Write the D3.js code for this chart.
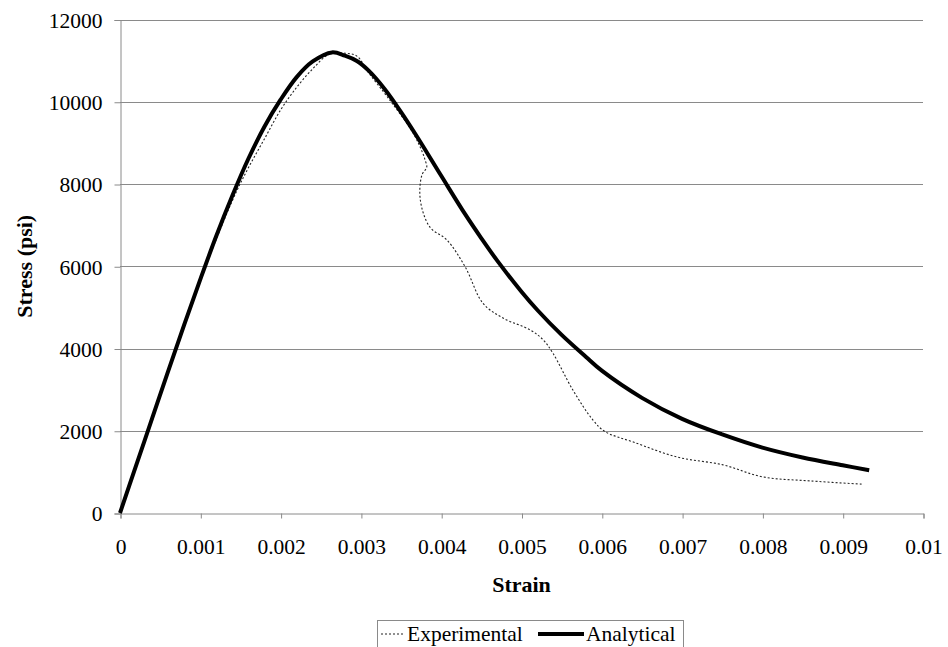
<!DOCTYPE html>
<html>
<head>
<meta charset="utf-8">
<script src="https://cdn.jsdelivr.net/npm/d3@7/dist/d3.min.js"></script>
<style>
  body { margin: 0; background: #fff; }
</style>
</head>
<body>
<div id="chart"></div>
<script>
// experimental test curve (strain, psi)
const expStrain = [0, 0.0005, 0.001, 0.0014, 0.0016, 0.0018, 0.002, 0.0022, 0.0024, 0.0026, 0.0028, 0.00295, 0.00309,
  0.00336, 0.00365, 0.00377, 0.0038, 0.00382, 0.00376, 0.00374, 0.00386, 0.00407, 0.0043, 0.00452, 0.00477, 0.00511,
  0.00527, 0.00539, 0.00564, 0.00589, 0.00604, 0.0064, 0.00694, 0.00751, 0.008, 0.0086, 0.00925]
const expStress = [0, 2850, 5650, 7600, 8400, 9100, 9800, 10350, 10800, 11150, 11180, 11110, 10720,
  10040, 9240, 8750, 8580, 8410, 8220, 7610, 6950, 6640, 5980, 5100, 4740, 4450,
  4210, 3890, 2990, 2260, 1980, 1720, 1360, 1170, 880, 780, 700]

// analytical model curve
const anaStrain = [0, 0.0002, 0.0004, 0.0006, 0.0008, 0.001, 0.0012, 0.0014, 0.0016, 0.0018, 0.002, 0.0022, 0.0024,
  0.00264, 0.0028, 0.00295, 0.0031, 0.0033, 0.0035, 0.0037, 0.004, 0.0043, 0.0045, 0.0047, 0.005, 0.0052, 0.0055,
  0.0058, 0.006, 0.0065, 0.007, 0.0075, 0.008, 0.0085, 0.009, 0.00933]
const anaStress = [0, 1150, 2300, 3450, 4580, 5680, 6740, 7720, 8620, 9400, 10050, 10600, 10980,
  11200, 11120, 10990, 10750, 10300, 9750, 9150, 8200, 7260, 6680, 6130, 5380, 4930, 4330,
  3800, 3460, 2800, 2290, 1910, 1590, 1350, 1160, 1040]

const xTicks = [0, 0.001, 0.002, 0.003, 0.004, 0.005, 0.006, 0.007, 0.008, 0.009, 0.01]
const yTicks = [0, 2000, 4000, 6000, 8000, 10000, 12000]
const seriesNames = ['Experimental', 'Analytical']

const W = 948, H = 647
const margin = { top: 19.5, right: 25, bottom: 134, left: 120 }
const serif = "'Liberation Serif', Tinos, 'Times New Roman', Times, 'Noto Serif', 'DejaVu Serif', FreeSerif, serif"

const svg = d3.select('#chart').append('svg')
  .attr('width', W)
  .attr('height', H)
  .style('font-family', serif)

const x = d3.scaleLinear().domain([0, 0.01]).range([margin.left, W - margin.right])
const y = d3.scaleLinear().domain([0, 12000]).range([H - margin.bottom, margin.top])

const gray = '#8a8a8a'

// horizontal gridlines
svg.append('g')
  .selectAll('line')
  .data(yTicks.filter(d => d > 0))
  .enter().append('line')
  .attr('x1', x(0)).attr('x2', x(0.01))
  .attr('y1', d => Math.round(y(d)) + 0.5)
  .attr('y2', d => Math.round(y(d)) + 0.5)
  .attr('stroke', gray)
  .attr('stroke-width', 1)

// y axis
const yAxis = svg.append('g')
  .attr('transform', 'translate(' + (x(0) + 0.5) + ',0.5)')
  .call(d3.axisLeft(y).tickValues(yTicks).tickSize(6).tickPadding(12).tickFormat(d3.format('d')))
yAxis.attr('font-family', serif)
yAxis.select('.domain').attr('stroke', gray)
yAxis.selectAll('.tick line').attr('stroke', gray)
yAxis.selectAll('text').attr('font-size', 21.5).attr('dy', '0.34em')

// x axis
const xAxis = svg.append('g')
  .attr('transform', 'translate(0.5,' + (Math.round(y(0)) + 0.5) + ')')
  .call(d3.axisBottom(x).tickValues(xTicks).tickSize(5).tickPadding(20).tickFormat(d => d === 0 ? '0' : String(+d.toFixed(3))))
xAxis.attr('font-family', serif)
xAxis.select('.domain').attr('stroke', gray)
xAxis.selectAll('.tick line').attr('stroke', gray)
xAxis.selectAll('text').attr('font-size', 21.5)

// axis titles
svg.append('text')
  .attr('x', (x(0) + x(0.01)) / 2)
  .attr('y', 592)
  .attr('text-anchor', 'middle')
  .attr('font-size', 22)
  .attr('font-weight', 'bold')
  .text('Strain')

svg.append('text')
  .attr('transform', 'translate(32,' + ((y(0) + y(12000)) / 2) + ') rotate(-90)')
  .attr('text-anchor', 'middle')
  .attr('font-size', 22)
  .attr('font-weight', 'bold')
  .text('Stress (psi)')

// lines
const line = d3.line()
  .x(d => x(d[0]))
  .y(d => y(d[1]))
  .curve(d3.curveCatmullRom.alpha(0.5))

const expData = expStrain.map((s, i) => [s, expStress[i]])
const anaData = anaStrain.map((s, i) => [s, anaStress[i]])

svg.append('path')
  .datum(expData)
  .attr('d', line)
  .attr('fill', 'none')
  .attr('stroke', '#222')
  .attr('stroke-width', 1.1)
  .attr('stroke-dasharray', '2,2')

svg.append('path')
  .datum(anaData)
  .attr('d', line)
  .attr('fill', 'none')
  .attr('stroke', '#000')
  .attr('stroke-width', 4)
  .attr('stroke-linejoin', 'round')

// legend
const legend = svg.append('g')
legend.append('rect')
  .attr('x', 377.5).attr('y', 620.5)
  .attr('width', 306).attr('height', 40)
  .attr('fill', 'none')
  .attr('stroke', gray)

const legY = 634
legend.append('line')
  .attr('x1', 381).attr('x2', 403)
  .attr('y1', legY).attr('y2', legY)
  .attr('stroke', '#222').attr('stroke-width', 1.1).attr('stroke-dasharray', '2,2')
legend.append('text')
  .attr('x', 407).attr('y', legY + 7)
  .attr('font-size', 21.5)
  .text(seriesNames[0])
legend.append('line')
  .attr('x1', 538).attr('x2', 584)
  .attr('y1', legY).attr('y2', legY)
  .attr('stroke', '#000').attr('stroke-width', 4)
legend.append('text')
  .attr('x', 586).attr('y', legY + 7)
  .attr('font-size', 21.5)
  .text(seriesNames[1])
</script>
</body>
</html>
